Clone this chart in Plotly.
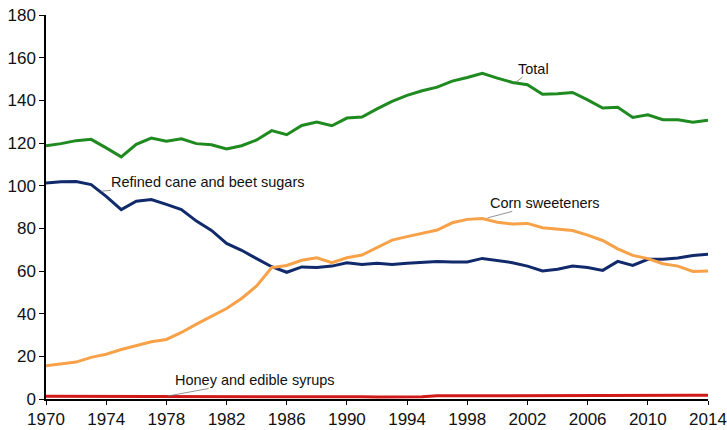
import plotly.graph_objects as go

years = list(range(1970, 2015))

total = [118.7, 119.7, 121.1, 121.7, 117.7, 113.5, 119.4, 122.3, 120.8, 122.0,
         119.7, 119.2, 117.2, 118.7, 121.4, 125.8, 123.9, 128.2, 129.8, 128.1,
         131.7, 132.2, 136.0, 139.5, 142.3, 144.5, 146.2, 149.0, 150.7, 152.7,
         150.4, 148.4, 147.3, 142.9, 143.1, 143.7, 140.2, 136.4, 136.7, 132.0,
         133.2, 130.9, 130.9, 129.7, 130.7]

refined = [101.3, 101.8, 101.9, 100.5, 95.0, 88.8, 92.7, 93.5, 91.2, 88.8,
           83.4, 79.0, 72.9, 69.7, 65.8, 62.0, 59.4, 61.9, 61.6, 62.3,
           63.9, 63.0, 63.6, 63.0, 63.6, 64.2, 64.5, 64.2, 64.2, 65.9,
           65.0, 63.9, 62.3, 60.0, 60.8, 62.3, 61.6, 60.3, 64.5, 62.6,
           65.5, 65.5, 66.1, 67.3, 67.8]

corn = [15.6, 16.4, 17.3, 19.5, 21.0, 23.2, 24.9, 26.8, 27.9, 31.2,
        35.1, 38.7, 42.4, 47.1, 53.0, 61.6, 62.6, 65.0, 66.2, 63.9,
        66.2, 67.5, 71.0, 74.5, 76.1, 77.6, 79.2, 82.6, 84.2, 84.6,
        82.9, 82.0, 82.3, 80.3, 79.8, 79.0, 76.8, 74.3, 70.4, 67.3,
        65.8, 63.4, 62.3, 59.8, 60.0]

honey = [1.3, 1.3, 1.3, 1.3, 1.1, 1.2, 1.2, 1.2, 1.3, 1.2,
         1.1, 1.1, 1.1, 1.1, 1.1, 1.1, 1.1, 1.1, 1.1, 1.0,
         1.0, 1.0, 0.9, 0.9, 1.0, 1.1, 1.5, 1.5, 1.5, 1.6,
         1.6, 1.6, 1.6, 1.7, 1.5, 1.6, 1.7, 1.5, 1.5, 1.4,
         1.6, 1.6, 1.6, 1.7, 1.8]

x_ticks = list(range(1970, 2015, 4))
y_ticks = list(range(0, 181, 20))

series = [
    ("Total", total, "#1f8a1f"),
    ("Refined cane and beet sugars", refined, "#102a6b"),
    ("Corn sweeteners", corn, "#f7a148"),
    ("Honey and edible syrups", honey, "#d01a1a"),
]

fig = go.Figure()
for name, vals, col in series:
    fig.add_trace(go.Scatter(x=years, y=vals, mode="lines", name=name,
                             line=dict(color=col, width=3), hoverinfo="x+y"))

label_font = dict(family="Liberation Sans, Arial, sans-serif", size=14.5, color="#111111")
labels = [
    ("Total", 2001.2, 148.3, 18, -14),
    ("Refined cane and beet sugars", 1973.65, 97.4, 107, -9),
    ("Corn sweeteners", 1999.35, 84.9, 57, -15),
    ("Honey and edible syrups", 1978.1, 1.4, 87, -16),
]
for txt, xa, ya, ax, ay in labels:
    fig.add_annotation(x=xa, y=ya, text=txt, showarrow=True, arrowhead=0,
                       arrowwidth=0.8, arrowcolor="#777777", ax=ax, ay=ay,
                       font=label_font, borderpad=0, standoff=0)

axis_font = dict(family="Liberation Sans, Arial, sans-serif", size=17, color="#111111")
fig.update_xaxes(range=[1970, 2014], tickvals=x_ticks, ticktext=[str(t) for t in x_ticks],
                 showgrid=False, zeroline=False, showline=True, linecolor="black", linewidth=1.5,
                 ticks="outside", ticklen=4, tickcolor="black", tickfont=axis_font,
                 automargin=False, ticklabeloverflow="allow")
fig.update_yaxes(range=[0, 180], tickvals=y_ticks, ticktext=[str(t) for t in y_ticks],
                 showgrid=False, zeroline=False, showline=True, linecolor="black", linewidth=1.5,
                 ticks="outside", ticklen=5, tickcolor="black", tickfont=axis_font,
                 automargin=False, ticklabeloverflow="allow")

fig.update_layout(width=727, height=430, showlegend=False,
                  plot_bgcolor="white", paper_bgcolor="white",
                  margin=dict(l=46, r=19, t=15, b=31))

fig.write_html("out.html", config={"displayModeBar": False},
               post_script="document.body.style.margin='0';document.body.style.overflow='hidden';")
